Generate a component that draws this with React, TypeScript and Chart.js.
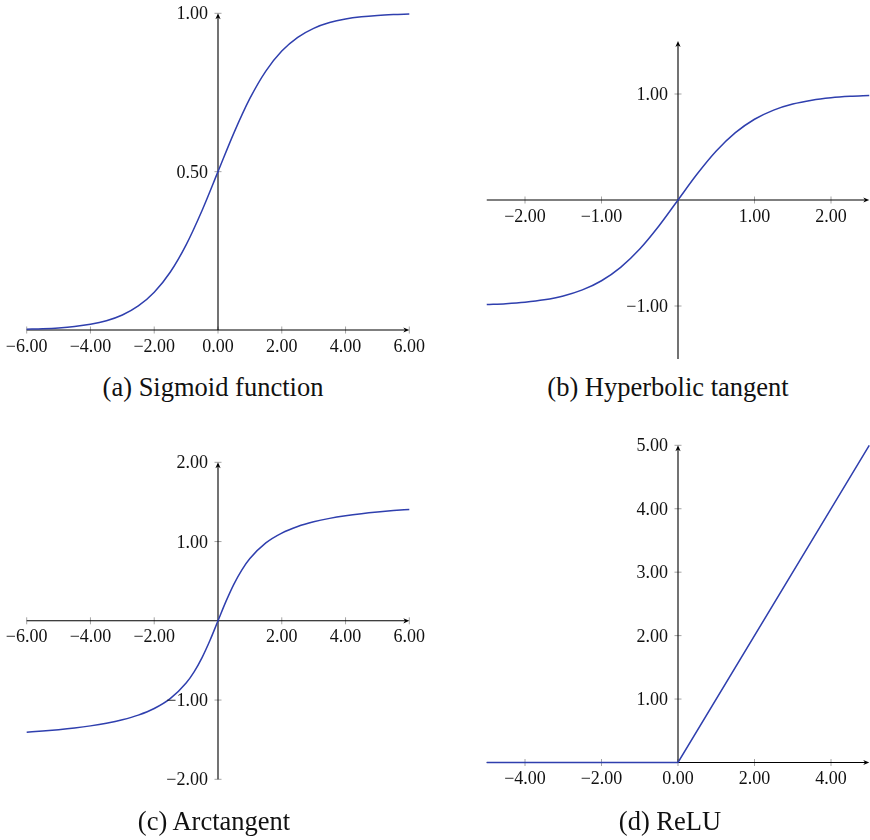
import React, { useEffect, useRef } from 'react';
import { Chart, registerables } from 'chart.js';

Chart.register(...registerables);

// ---------- data ----------
const sigmoidX = [-6, -5.5, -5, -4.5, -4, -3.5, -3, -2.5, -2, -1.5, -1, -0.5, 0, 0.5, 1, 1.5, 2, 2.5, 3, 3.5, 4, 4.5, 5, 5.5, 6];
const sigmoidY = [0.0025, 0.0041, 0.0067, 0.011, 0.018, 0.0293, 0.0474, 0.0759, 0.1192, 0.1824, 0.2689, 0.3775, 0.5, 0.6225, 0.7311, 0.8176, 0.8808, 0.9241, 0.9526, 0.9707, 0.982, 0.989, 0.9933, 0.9959, 0.9975];

const tanhX = [-2.5, -2.25, -2, -1.75, -1.5, -1.25, -1, -0.75, -0.5, -0.25, 0, 0.25, 0.5, 0.75, 1, 1.25, 1.5, 1.75, 2, 2.25, 2.5];
const tanhY = [-0.9866, -0.978, -0.964, -0.9414, -0.9051, -0.8483, -0.7616, -0.6351, -0.4621, -0.2449, 0, 0.2449, 0.4621, 0.6351, 0.7616, 0.8483, 0.9051, 0.9414, 0.964, 0.978, 0.9866];

const arctanX = [-6, -5.5, -5, -4.5, -4, -3.5, -3, -2.5, -2, -1.5, -1, -0.75, -0.5, -0.25, 0, 0.25, 0.5, 0.75, 1, 1.5, 2, 2.5, 3, 3.5, 4, 4.5, 5, 5.5, 6];
const arctanY = [-1.4056, -1.3909, -1.3734, -1.3521, -1.3258, -1.2925, -1.249, -1.1903, -1.1071, -0.9828, -0.7854, -0.6435, -0.4636, -0.245, 0, 0.245, 0.4636, 0.6435, 0.7854, 0.9828, 1.1071, 1.1903, 1.249, 1.2925, 1.3258, 1.3521, 1.3734, 1.3909, 1.4056];

const reluX = [-5, 0, 5];
const reluY = [0, 0, 5];

const sigmoidXTicks = [-6, -4, -2, 0, 2, 4, 6];
const sigmoidYTicks = [0.5, 1];
const tanhXTicks = [-2, -1, 1, 2];
const tanhYTicks = [-1, 1];
const arctanXTicks = [-6, -4, -2, 2, 4, 6];
const arctanYTicks = [-2, -1, 1, 2];
const reluXTicks = [-4, -2, 0, 2, 4];
const reluYTicks = [1, 2, 3, 4, 5];

const sigmoidRange = { x: [-6, 6], y: [0, 1] };
const tanhRange = { x: [-2.5, 2.5], y: [-1.5, 1.5] };
const arctanRange = { x: [-6, 6], y: [-2, 2] };
const reluRange = { x: [-5, 5], y: [0, 5] };

const captions = ['(a) Sigmoid function', '(b) Hyperbolic tangent', '(c) Arctangent', '(d) ReLU'];

// ---------- layout ----------
const PANELS = [
  { xs: sigmoidX, ys: sigmoidY, xTicks: sigmoidXTicks, yTicks: sigmoidYTicks, range: sigmoidRange, smooth: true,
    canvas: { left: 0, top: 0, w: 435, h: 370 }, area: { l: 26.7, t: 13.3, r: 409.3, b: 330 },
    caption: captions[0], capX: 213, capBase: 396 },
  { xs: tanhX, ys: tanhY, xTicks: tanhXTicks, yTicks: tanhYTicks, range: tanhRange, smooth: true,
    canvas: { left: 440, top: 0, w: 430, h: 370 }, area: { l: 486.75, t: 41, r: 869.25, b: 359 },
    caption: captions[1], capX: 668, capBase: 396 },
  { xs: arctanX, ys: arctanY, xTicks: arctanXTicks, yTicks: arctanYTicks, range: arctanRange, smooth: true,
    canvas: { left: 0, top: 420, w: 435, h: 390 }, area: { l: 26.7, t: 462.3, r: 409.3, b: 779.3 },
    caption: captions[2], capX: 214, capBase: 830 },
  { xs: reluX, ys: reluY, xTicks: reluXTicks, yTicks: reluYTicks, range: reluRange, smooth: false,
    canvas: { left: 440, top: 420, w: 430, h: 375 }, area: { l: 486.75, t: 445.3, r: 869.25, b: 762.5 },
    caption: captions[3], capX: 670, capBase: 830 },
];

const LINE_COLOR = '#2f3fae';
const FONT = '18px "Liberation Serif", "Times New Roman", serif';

const fmt = (v: number) => {
  const s = Math.abs(v).toFixed(2);
  return v < 0 ? '\u2212' + s : s;
};

function arrow(ctx: CanvasRenderingContext2D, tx: number, ty: number, dx: number, dy: number) {
  const nx = -dy, ny = dx;
  const L = 6, W = 2.6, N = 4.2;
  ctx.beginPath();
  ctx.moveTo(tx, ty);
  ctx.lineTo(tx - L * dx + W * nx, ty - L * dy + W * ny);
  ctx.lineTo(tx - N * dx, ty - N * dy);
  ctx.lineTo(tx - L * dx - W * nx, ty - L * dy - W * ny);
  ctx.closePath();
  ctx.fill();
}

function makeAxesPlugin(p: any) {
  return {
    id: 'midAxes',
    beforeDatasetsDraw(chart: any) {
      const ctx: CanvasRenderingContext2D = chart.ctx;
      const sx = chart.scales.x, sy = chart.scales.y;
      const ax = sx.getPixelForValue(0);
      const ay = sy.getPixelForValue(0);
      const x1 = sx.getPixelForValue(p.range.x[0]);
      const x2 = sx.getPixelForValue(p.range.x[1]);
      const y1 = sy.getPixelForValue(p.range.y[0]);
      const y2 = sy.getPixelForValue(p.range.y[1]);
      ctx.save();
      // tick marks
      ctx.strokeStyle = '#9a9a9a';
      ctx.lineWidth = 0.9;
      ctx.beginPath();
      for (const t of p.xTicks) {
        const px = sx.getPixelForValue(t);
        ctx.moveTo(px, ay - 3.5);
        ctx.lineTo(px, ay + 3.5);
      }
      for (const t of p.yTicks) {
        const py = sy.getPixelForValue(t);
        ctx.moveTo(ax - 3.5, py);
        ctx.lineTo(ax + 3.5, py);
      }
      ctx.stroke();
      // axis lines
      ctx.strokeStyle = '#000';
      ctx.fillStyle = '#000';
      ctx.lineWidth = 1.1;
      ctx.beginPath();
      ctx.moveTo(x1, ay);
      ctx.lineTo(x2 - 3, ay);
      ctx.moveTo(ax, y1);
      ctx.lineTo(ax, y2 + 3);
      ctx.stroke();
      arrow(ctx, x2, ay, 1, 0);
      arrow(ctx, ax, y2, 0, -1);
      ctx.restore();
    },
    afterDatasetsDraw(chart: any) {
      const ctx: CanvasRenderingContext2D = chart.ctx;
      const sx = chart.scales.x, sy = chart.scales.y;
      const ax = sx.getPixelForValue(0);
      const ay = sy.getPixelForValue(0);
      ctx.save();
      ctx.font = FONT;
      ctx.fillStyle = '#111';
      ctx.textBaseline = 'alphabetic';
      ctx.textAlign = 'center';
      for (const t of p.xTicks) {
        ctx.fillText(fmt(t), sx.getPixelForValue(t), ay + 21.5);
      }
      ctx.textAlign = 'right';
      for (const t of p.yTicks) {
        ctx.fillText(fmt(t), ax - 10, sy.getPixelForValue(t) + 6);
      }
      ctx.restore();
    },
  };
}

function Panel({ p }: { p: any }) {
  const ref = useRef<HTMLCanvasElement | null>(null);
  useEffect(() => {
    const c = ref.current;
    if (!c) return;
    const { canvas, area } = p;
    const chart = new Chart(c, {
      type: 'line',
      data: {
        datasets: [
          {
            data: p.xs.map((x: number, i: number) => ({ x, y: p.ys[i] })),
            borderColor: LINE_COLOR,
            borderWidth: 1.5,
            pointRadius: 0,
            fill: false,
            cubicInterpolationMode: p.smooth ? 'monotone' : 'default',
            tension: 0,
            clip: false as any,
          },
        ],
      },
      options: {
        animation: false,
        responsive: false,
        devicePixelRatio: 1,
        events: [],
        layout: {
          padding: {
            left: area.l - canvas.left,
            top: area.t - canvas.top,
            right: canvas.left + canvas.w - area.r,
            bottom: canvas.top + canvas.h - area.b,
          },
        },
        plugins: { legend: { display: false }, tooltip: { enabled: false }, title: { display: false } },
        scales: {
          x: { type: 'linear', min: p.range.x[0], max: p.range.x[1], display: false },
          y: { type: 'linear', min: p.range.y[0], max: p.range.y[1], display: false },
        },
      },
      plugins: [makeAxesPlugin(p)],
    } as any);
    return () => chart.destroy();
  }, [p]);
  return (
    <>
      <canvas
        ref={ref}
        width={p.canvas.w}
        height={p.canvas.h}
        style={{ position: 'absolute', left: p.canvas.left, top: p.canvas.top, width: p.canvas.w, height: p.canvas.h }}
      />
      <div
        style={{
          position: 'absolute',
          left: p.capX - 200,
          width: 400,
          top: p.capBase - 22.2,
          fontFamily: '"Liberation Serif", "Times New Roman", serif',
          fontSize: 26.5,
          lineHeight: '26.5px',
          textAlign: 'center',
          color: '#111',
          whiteSpace: 'nowrap',
        }}
      >
        {p.caption}
      </div>
    </>
  );
}

export default function App() {
  return (
    <div style={{ position: 'absolute', left: 0, top: 0, width: 870, height: 840, background: '#fff', overflow: 'hidden' }}>
      {PANELS.map((p, i) => (
        <Panel key={i} p={p} />
      ))}
    </div>
  );
}
